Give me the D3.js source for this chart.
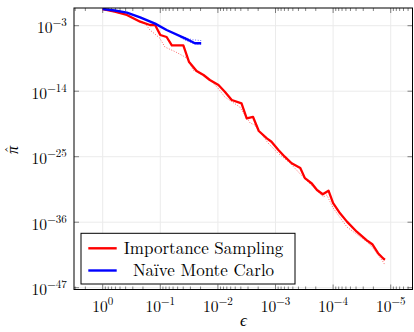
<!DOCTYPE html>
<html><head><meta charset="utf-8">
<script src="https://cdn.jsdelivr.net/npm/d3@7"></script>
<style>body{margin:0;background:#fff}svg{display:block}</style>
</head><body><svg id="c" width="414" height="332"></svg>
<script>
// Values, stored as log10 of epsilon and of pi-hat
const isEpsLog = [0,-0.21,-0.42,-0.65,-0.82,-0.91,-1.0,-1.11,-1.2,-1.4,-1.5,-1.63,-1.75,-1.86,-2.01,-2.12,-2.24,-2.41,-2.5,-2.61,-2.71,-2.85,-2.93,-3.05,-3.16,-3.28,-3.43,-3.51,-3.63,-3.72,-3.82,-3.92,-4.0,-4.12,-4.24,-4.41,-4.58,-4.68,-4.78,-4.87,-4.9];
const isPiLog  = [-0.2,-0.65,-1.2,-2.33,-2.88,-2.88,-4.56,-4.9,-6.32,-6.32,-9.1,-10.6,-11.28,-12.12,-12.96,-14.08,-15.48,-16.03,-18.58,-18.33,-20.68,-21.91,-22.48,-23.87,-25.0,-26.1,-26.9,-28.6,-29.5,-30.6,-31.3,-30.7,-32.8,-34.5,-35.9,-37.6,-39.0,-39.7,-41.2,-42.1,-42.3];
const isLowEpsLog = [0,-0.39,-0.73,-0.82,-0.99,-1.08,-1.27,-1.46,-1.57,-1.74,-1.86,-2.0,-2.12,-2.38,-2.56,-2.64,-2.87,-3.04,-3.25,-3.48,-3.83,-3.89,-4.0,-4.24,-4.59,-4.69,-4.87,-4.9];
const isLowPiLog  = [-0.2,-1.12,-2.55,-3.72,-5.07,-6.58,-7.42,-8.42,-10.44,-11.28,-12.12,-13.46,-14.97,-16.65,-19.34,-19.67,-22.7,-24.38,-26.06,-28.41,-31.77,-31.43,-33.61,-36.8,-39.32,-40.33,-42.68,-43.19];
const mcEpsLog = [0,-0.21,-0.42,-0.65,-0.91,-1.11,-1.43,-1.55,-1.6,-1.71];
const mcPiLog  = [-0.2,-0.45,-0.8,-1.6,-2.66,-3.72,-5.12,-5.69,-5.96,-5.96];
const mcUpEpsLog = [-1.3,-1.45,-1.55,-1.71];
const mcUpPiLog  = [-4.6,-5.05,-5.35,-5.5];
const mcLowEpsLog = [-1.35,-1.45,-1.55,-1.65,-1.71];
const mcLowPiLog  = [-5.0,-5.5,-5.9,-6.1,-6.1];
const xTickExps = [0,-1,-2,-3,-4,-5];
const yTickExps = [-3,-14,-25,-36,-47];
const legendLabels = ["Importance Sampling","Naïve Monte Carlo"];
const colors = ["#ff0000","#0000ff"];

const FONT = "Latin Modern Roman";
const svg = d3.select("#c");
const L=74, R=412.5, T=8, B=289.5;
const x = d3.scaleLog().domain([Math.pow(10,0.498), Math.pow(10,-5.378)]).range([L,R]);
const y = d3.scaleLog().domain([Math.pow(10,-47.30), Math.pow(10,-0.028)]).range([B,T]);
const P = v=>Math.pow(10,v);

svg.append("clipPath").attr("id","clip").append("rect").attr("x",L).attr("y",T).attr("width",R-L).attr("height",B-T);

// grid
const g = svg.append("g");
g.selectAll(".gx").data(xTickExps).join("line").attr("x1",d=>x(P(d))).attr("x2",d=>x(P(d))).attr("y1",T).attr("y2",B).attr("stroke","#ebebeb").attr("stroke-width",1);
g.selectAll(".gy").data(yTickExps).join("line").attr("y1",d=>y(P(d))).attr("y2",d=>y(P(d))).attr("x1",L).attr("x2",R).attr("stroke","#ebebeb").attr("stroke-width",1);

// minor x ticks
const minor=[];
for(let d=1; d>=-6; d--) for(let k=2;k<=9;k++){const v=k*P(d); const px=x(v); if(px>L+0.5&&px<R-0.5) minor.push(v);}
const tk = svg.append("g").attr("stroke","#333").attr("stroke-width",0.6);
tk.selectAll(".mb").data(minor).join("line").attr("x1",d=>x(d)).attr("x2",d=>x(d)).attr("y1",B).attr("y2",B-3);
tk.selectAll(".mt").data(minor).join("line").attr("x1",d=>x(d)).attr("x2",d=>x(d)).attr("y1",T).attr("y2",T+3);
tk.selectAll(".Mb").data(xTickExps).join("line").attr("x1",d=>x(P(d))).attr("x2",d=>x(P(d))).attr("y1",B).attr("y2",B-5);
tk.selectAll(".Mt").data(xTickExps).join("line").attr("x1",d=>x(P(d))).attr("x2",d=>x(P(d))).attr("y1",T).attr("y2",T+5);
tk.selectAll(".Ml").data(yTickExps).join("line").attr("y1",d=>y(P(d))).attr("y2",d=>y(P(d))).attr("x1",L).attr("x2",L+5);
tk.selectAll(".Mr").data(yTickExps).join("line").attr("y1",d=>y(P(d))).attr("y2",d=>y(P(d))).attr("x1",R).attr("x2",R-5);

// lines
const line = d3.line().x(d=>x(P(d[0]))).y(d=>y(P(d[1])));
const zip=(a,b)=>a.map((v,i)=>[v,b[i]]);
const plot = svg.append("g").attr("clip-path","url(#clip)");
plot.append("path").attr("d",line(zip(isLowEpsLog,isLowPiLog))).attr("fill","none").attr("stroke","#ff0000").attr("stroke-opacity",0.6).attr("stroke-width",1).attr("stroke-dasharray","1 1.6");
plot.append("path").attr("d",line(zip(mcUpEpsLog,mcUpPiLog))).attr("fill","none").attr("stroke","#0000ff").attr("stroke-opacity",0.6).attr("stroke-width",1).attr("stroke-dasharray","1 1.6");
plot.append("path").attr("d",line(zip(mcLowEpsLog,mcLowPiLog))).attr("fill","none").attr("stroke","#0000ff").attr("stroke-opacity",0.6).attr("stroke-width",1).attr("stroke-dasharray","1 1.6");
plot.append("path").attr("d",line(zip(isEpsLog,isPiLog))).attr("fill","none").attr("stroke",colors[0]).attr("stroke-width",2.3).attr("stroke-linejoin","round");
plot.append("path").attr("d",line(zip(mcEpsLog,mcPiLog))).attr("fill","none").attr("stroke",colors[1]).attr("stroke-width",2.4).attr("stroke-linejoin","round");

// frame
svg.append("rect").attr("x",L).attr("y",T).attr("width",R-L).attr("height",B-T).attr("fill","none").attr("stroke","#000").attr("stroke-width",1);

// tick labels
function pow10(sel, e){
  sel.attr("font-family",FONT).attr("fill","#000");
  sel.append("tspan").text("10").attr("font-size",15.5);
  sel.append("tspan").text(e===0?"0":"\u2212"+Math.abs(e)).attr("font-size",11).attr("dy",-7);
}
svg.selectAll(".xl").data(xTickExps).join("text").attr("x",d=>x(P(d))).attr("y",311.5).attr("text-anchor","middle").each(function(d){pow10(d3.select(this),d);});
svg.selectAll(".yl").data(yTickExps).join("text").attr("x",66.7).attr("y",d=>y(P(d))+7.5).attr("text-anchor","end").each(function(d){pow10(d3.select(this),d);});

// axis labels
svg.append("text").attr("x",243.5).attr("y",326).attr("text-anchor","middle").attr("font-family",FONT).attr("font-size",17).attr("font-style","italic").text("\u03f5");
const yl = svg.append("g").attr("transform","translate(18,150) rotate(-90)");
yl.append("text").attr("x",0).attr("y",0).attr("text-anchor","middle").attr("font-family",FONT).attr("font-size",16).attr("font-style","italic").text("\u03c0");
yl.append("text").attr("x",0.5).attr("y",-3).attr("text-anchor","middle").attr("font-family",FONT).attr("font-size",14).text("\u02c6");

// legend
const lg = svg.append("g");
lg.append("rect").attr("x",81).attr("y",233.3).attr("width",214).attr("height",50.7).attr("fill","#fff").attr("stroke","#000").attr("stroke-width",1);
const ly=[248.3,270.5];
legendLabels.forEach((t,i)=>{
  lg.append("line").attr("x1",88.3).attr("x2",116.7).attr("y1",ly[i]).attr("y2",ly[i]).attr("stroke",colors[i]).attr("stroke-width",2.4);
  lg.append("text").attr("x",203.5).attr("y",ly[i]+5.5).attr("text-anchor","middle").attr("font-family",FONT).attr("font-size",17).text(t);
});
</script></body></html>
